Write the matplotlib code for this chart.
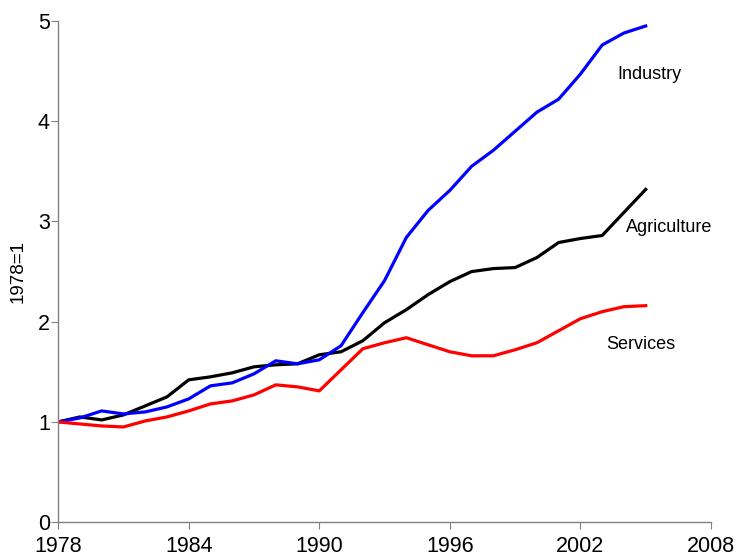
import numpy as np
import matplotlib.pyplot as plt

plt.rcParams['font.family'] = ['Liberation Sans', 'DejaVu Sans']

years = np.arange(1978, 2006)
industry = [1.00, 1.04, 1.11, 1.08, 1.10, 1.15, 1.23, 1.36, 1.39, 1.48,
            1.61, 1.58, 1.62, 1.76, 2.09, 2.41, 2.84, 3.11, 3.31, 3.55,
            3.71, 3.90, 4.09, 4.22, 4.47, 4.76, 4.88, 4.95]
agriculture = [1.00, 1.05, 1.02, 1.07, 1.16, 1.25, 1.42, 1.45, 1.49, 1.55,
               1.57, 1.58, 1.67, 1.70, 1.81, 1.99, 2.12, 2.27, 2.40, 2.50,
               2.53, 2.54, 2.64, 2.79, 2.83, 2.86, 3.09, 3.32]
services = [1.00, 0.98, 0.96, 0.95, 1.01, 1.05, 1.11, 1.18, 1.21, 1.27,
            1.37, 1.35, 1.31, 1.52, 1.73, 1.79, 1.84, 1.77, 1.70, 1.66,
            1.66, 1.72, 1.79, 1.91, 2.03, 2.10, 2.15, 2.16]

xticks = [1978, 1984, 1990, 1996, 2002, 2008]
yticks = [0, 1, 2, 3, 4, 5]

fig = plt.figure(figsize=(7.36, 5.52), dpi=100)
ax = fig.add_axes([0.079, 0.054, 0.887, 0.908])

ax.plot(years, agriculture, color='black', lw=2.3)
ax.plot(years, industry, color='#0000ff', lw=2.3)
ax.plot(years, services, color='#ff0000', lw=2.3)

ax.text(2003.7, 4.47, 'Industry', fontsize=13, va='center', ha='left')
ax.text(2004.1, 2.94, 'Agriculture', fontsize=13, va='center', ha='left')
ax.text(2003.2, 1.77, 'Services', fontsize=13, va='center', ha='left')

ax.set_xlim(1978, 2008)
ax.set_ylim(0, 5)
ax.set_xticks(xticks)
ax.set_yticks(yticks)
ax.set_ylabel('1978=1', fontsize=13.5, labelpad=8)

for s in ['top', 'right']:
    ax.spines[s].set_visible(False)
for s in ['left', 'bottom']:
    ax.spines[s].set_color('#808080')
    ax.spines[s].set_linewidth(1.0)
ax.tick_params(direction='out', length=5, color='#808080', labelsize=15.5)
ax.tick_params(axis='y', pad=1)
ax.tick_params(axis='x', pad=5)

fig.savefig('out.png', dpi=100)
